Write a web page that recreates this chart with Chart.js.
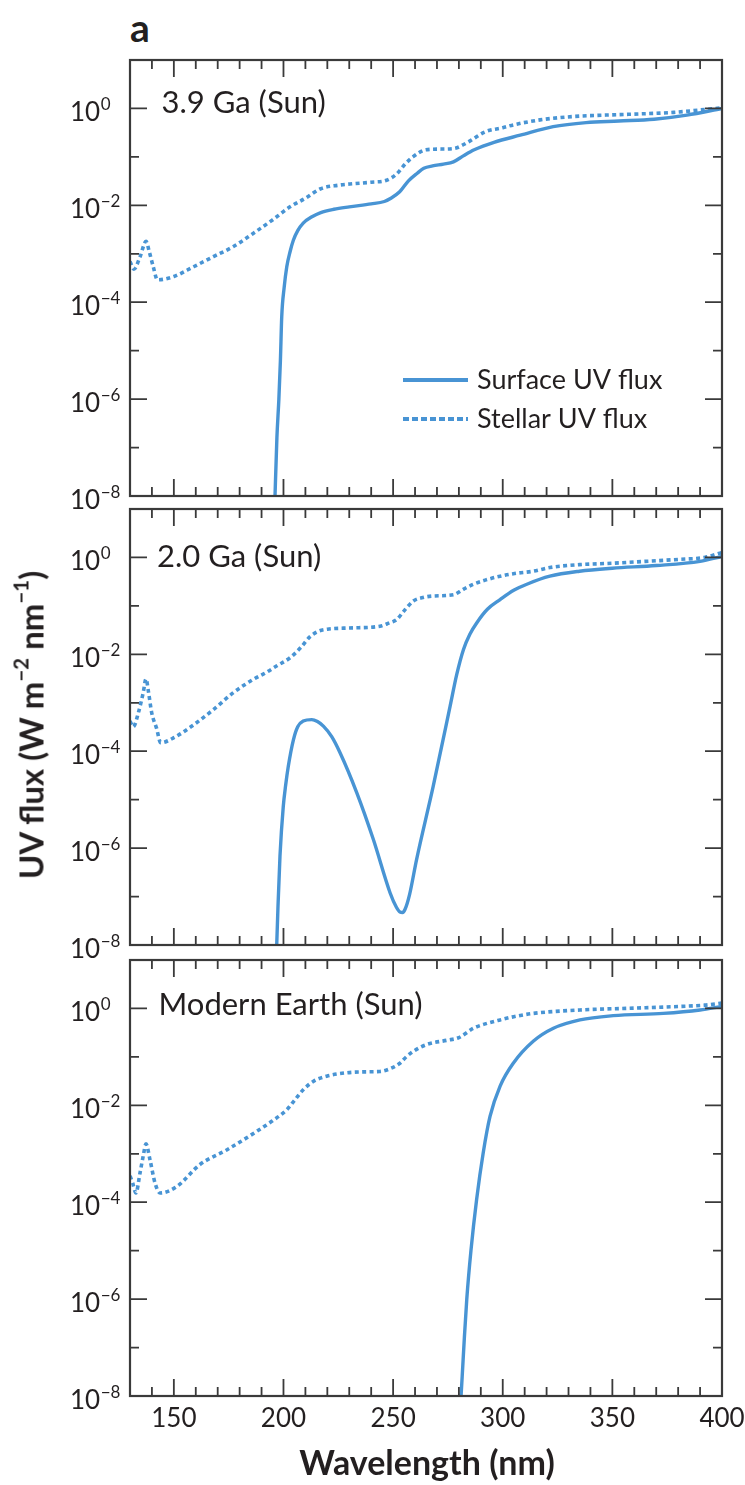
<!DOCTYPE html>
<html>
<head>
<meta charset="utf-8">
<script src="https://cdn.jsdelivr.net/npm/chart.js@4.4.1/dist/chart.umd.min.js"></script>
<style>
  html, body { margin: 0; padding: 0; background: #ffffff; }
  body { width: 745px; height: 1485px; position: relative; overflow: hidden;
         font-family: Lato, "Noto Sans", sans-serif; color: #231f20; }
  canvas { position: absolute; left: 0; }
  #p1 { top: 50px; }
  #p2 { top: 499px; }
  #p3 { top: 950px; }
  .tag { position: absolute; left: 130px; top: 8px; font-size: 39px; font-weight: 700; line-height: 1; }
  .xtitle { position: absolute; left: 427px; top: 1445px; transform: translateX(-50%);
            font-size: 34px; font-weight: 700; line-height: 1; white-space: nowrap; }
  .ytitle { position: absolute; left: 31px; top: 725px; transform: translate(-50%, -50%) rotate(-90deg);
            font-size: 33px; font-weight: 700; line-height: 1; white-space: nowrap; }
  .ytitle sup { font-size: 0.62em; position: relative; top: -0.15em; vertical-align: super; line-height: 0; }
</style>
</head>
<body>
<div class="tag">a</div>
<canvas id="p1" width="745" height="480"></canvas>
<canvas id="p2" width="745" height="480"></canvas>
<canvas id="p3" width="745" height="500"></canvas>
<div class="ytitle">UV flux (W m<sup>−2</sup> nm<sup>−1</sup>)</div>
<div class="xtitle">Wavelength (nm)</div>
<script>
// ---- Axis ticks and labels ----
const xTickValues = [140, 150, 160, 170, 180, 190, 200, 210, 220, 230, 240, 250, 260, 270, 280,
                     290, 300, 310, 320, 330, 340, 350, 360, 370, 380, 390];
const xMajorTicks = [150, 200, 250, 300, 350, 400];
const xTickLabels = ['150', '200', '250', '300', '350', '400'];
const yTickDecades = [-7, -6, -5, -4, -3, -2, -1, 0];
const yLabelDecades = [-8, -6, -4, -2, 0];
const panelTitles = ['3.9 Ga (Sun)', '2.0 Ga (Sun)', 'Modern Earth (Sun)'];
const seriesNames = ['Surface UV flux', 'Stellar UV flux'];

// ---- 3.9 Ga ----
const wl39Stellar = [130, 131.8, 134.6, 137.3, 138.8, 140.6, 142.5, 150, 159, 168, 177, 186, 195, 203,
  210, 217, 225, 232, 240, 247, 251.5, 255.5, 259, 265, 272, 278, 284, 292, 300, 305, 317, 332, 347,
  362, 378, 390, 400];
const flux39Stellar = [6.9e-4, 4.8e-4, 8.7e-4, 1.8e-3, 1.1e-3, 5.4e-4, 2.9e-4, 3.4e-4, 5.4e-4, 8.7e-4,
  1.4e-3, 2.6e-3, 5.0e-3, 9.3e-3, 1.4e-2, 2.2e-2, 2.6e-2, 2.8e-2, 3.0e-2, 3.3e-2, 4.4e-2, 7.1e-2,
  0.10, 0.14, 0.145, 0.15, 0.20, 0.33, 0.40, 0.46, 0.58, 0.68, 0.73, 0.77, 0.83, 0.93, 1.03];
const wl39Surface = [196.0, 197.0, 197.9, 198.6, 199.2, 200.3, 201.5, 203, 204.5, 206.5, 209, 213, 217,
  223, 230, 240, 246, 249, 253, 257, 261, 264, 268, 273, 277.5, 282, 287, 296, 308, 323, 338, 353, 369,
  384, 400];
const flux39Surface = [6.3e-9, 1.6e-7, 1.0e-6, 6.3e-6, 5.0e-5, 2.0e-4, 5.4e-4, 1.1e-3, 1.9e-3, 3.0e-3,
  4.3e-3, 5.8e-3, 7.1e-3, 8.3e-3, 9.3e-3, 1.07e-2, 1.2e-2, 1.4e-2, 1.9e-2, 3.2e-2, 4.6e-2, 5.8e-2,
  6.5e-2, 7.1e-2, 7.9e-2, 0.105, 0.14, 0.20, 0.28, 0.42, 0.51, 0.55, 0.60, 0.73, 1.0];

// ---- 2.0 Ga ----
const wl20Stellar = [130, 131.5, 133.8, 136, 137.3, 138.5, 139.9, 142.1, 144, 150, 159, 168, 177, 186,
  192, 197, 203, 208, 212, 216, 220, 230, 244, 248, 251.6, 255, 259.2, 264, 268.3, 277.5, 282, 286.6,
  292, 298.8, 306, 314, 321.5, 335, 350, 365, 380, 392, 400];
const flux20Stellar = [4.2e-4, 3.2e-4, 6.2e-4, 1.6e-3, 3.1e-3, 1.6e-3, 6.2e-4, 3.0e-4, 1.5e-4, 1.9e-4,
  3.5e-4, 7.2e-4, 1.6e-3, 3.0e-3, 4.2e-3, 5.8e-3, 8.5e-3, 1.4e-2, 2.3e-2, 3.0e-2, 3.3e-2, 3.5e-2,
  3.8e-2, 4.4e-2, 5.2e-2, 7.9e-2, 0.126, 0.15, 0.16, 0.17, 0.22, 0.28, 0.34, 0.41, 0.47, 0.52, 0.62,
  0.71, 0.76, 0.83, 0.91, 1.0, 1.26];
const wl20Surface = [196.7, 197.5, 198.4, 199.9, 201, 202.2, 204.5, 206.5, 209, 212.9, 215.5, 218.2, 222,
  225.8, 233.4, 241, 248.6, 251.5, 253.1, 254.3, 255.4, 257.5, 260.7, 268.3, 276, 279, 282.1, 285,
  288.2, 293, 298.8, 305, 311, 321.5, 335, 350, 370, 390, 400];
const flux20Surface = [5.0e-9, 6.3e-8, 6.8e-7, 7.2e-6, 2.0e-5, 4.9e-5, 1.7e-4, 3.2e-4, 4.2e-4, 4.5e-4,
  4.1e-4, 3.3e-4, 2.0e-4, 9.3e-5, 1.4e-5, 1.5e-6, 1.2e-7, 6.0e-8, 4.8e-8, 4.7e-8, 5.4e-8, 1.1e-7,
  5.8e-7, 1.9e-5, 8.5e-4, 3.8e-3, 1.26e-2, 2.6e-2, 4.5e-2, 8.5e-2, 0.135, 0.21, 0.28, 0.41, 0.52,
  0.60, 0.68, 0.83, 1.05];

// ---- Modern Earth ----
const wlModStellar = [130, 131.2, 132.7, 134.6, 136, 137.3, 139.1, 141.4, 143.7, 151.3, 161.9, 174.1,
  187.8, 195, 201.5, 205, 209, 214, 219.7, 228.8, 236, 244, 249, 253.1, 256, 259.2, 265.3, 274.5, 280,
  286.6, 292, 298.8, 306, 313.9, 335.2, 358, 380.8, 392, 400];
const fluxModStellar = [3.5e-4, 2.5e-4, 1.55e-4, 4.1e-4, 8.9e-4, 1.6e-3, 7.6e-4, 2.5e-4, 1.55e-4, 2.1e-4,
  6.0e-4, 1.2e-3, 2.9e-3, 4.8e-3, 8.1e-3, 1.26e-2, 2.1e-2, 3.2e-2, 4.0e-2, 4.7e-2, 4.9e-2, 5.0e-2,
  5.8e-2, 7.4e-2, 0.10, 0.13, 0.18, 0.22, 0.25, 0.39, 0.48, 0.58, 0.69, 0.79, 0.93, 1.01, 1.10, 1.17, 1.29];
const wlModSurface = [280.6, 281.5, 282.5, 283.6, 285.5, 288.1, 291.1, 294.2, 298.8, 304.8, 313.9, 323.1,
  335.2, 350.4, 373.2, 390, 400];
const fluxModSurface = [5.0e-9, 2.5e-8, 1.6e-7, 1.0e-6, 1.0e-5, 1.15e-4, 1.05e-3, 5.9e-3, 2.5e-2, 7.4e-2,
  0.21, 0.39, 0.58, 0.71, 0.79, 0.93, 1.10];

// ---- Styling ----
const LINE_BLUE = '#4894d4';
const AXIS_GREY = '#3a3a3a';
const TEXT_DARK = '#231f20';
const FONT = 'Lato, "Noto Sans", sans-serif';
const STELLAR_DASH = [4, 3.4];

function toPoints(xs, ys) { return xs.map((x, i) => ({ x: x, y: ys[i] })); }

// Frame, inward ticks on all four sides, decade labels, panel title and optional key
const framePlugin = {
  id: 'frameTicks',
  afterDatasetsDraw(chart, args, opts) {
    const { ctx, chartArea: a } = chart;
    const x = chart.scales.x, y = chart.scales.y;
    ctx.save();
    ctx.strokeStyle = AXIS_GREY;
    ctx.lineWidth = 1.8;
    ctx.beginPath();
    xTickValues.forEach(v => {
      const px = x.getPixelForValue(v);
      const len = xMajorTicks.includes(v) ? 17 : 9;
      ctx.moveTo(px, a.bottom); ctx.lineTo(px, a.bottom - len);
      ctx.moveTo(px, a.top); ctx.lineTo(px, a.top + len);
    });
    yTickDecades.forEach(k => {
      const py = y.getPixelForValue(Math.pow(10, k));
      const len = (k % 2 === 0) ? 17 : 9;
      ctx.moveTo(a.left, py); ctx.lineTo(a.left + len, py);
      ctx.moveTo(a.right, py); ctx.lineTo(a.right - len, py);
    });
    ctx.stroke();
    ctx.lineWidth = 2.2;
    ctx.strokeRect(a.left, a.top, a.right - a.left, a.bottom - a.top);

    // decade labels 10^k
    ctx.fillStyle = TEXT_DARK;
    ctx.textBaseline = 'alphabetic';
    ctx.textAlign = 'left';
    yLabelDecades.forEach(k => {
      const py = y.getPixelForValue(Math.pow(10, k));
      ctx.font = '26px ' + FONT;
      ctx.fillText('10', 70, py + 12.5);
      const w = ctx.measureText('10').width;
      ctx.font = '17px ' + FONT;
      ctx.fillText(k === 0 ? '0' : '\u2212' + Math.abs(k), 70 + w + 0.5, py + 1.5);
    });

    // wavelength labels
    if (opts.xLabels) {
      ctx.font = '26px ' + FONT;
      ctx.textAlign = 'center';
      xMajorTicks.forEach((v, i) => {
        ctx.fillText(xTickLabels[i], x.getPixelForValue(v), a.bottom + 31);
      });
    }

    // panel title
    ctx.textAlign = 'left';
    ctx.font = '31px ' + FONT;
    ctx.fillText(opts.title, a.left + opts.titleDx, a.top + opts.titleDy);

    // series key
    if (opts.key) {
      chart.data.datasets.forEach((ds, i) => {
        const ly = a.top + 320 + i * 39;
        ctx.strokeStyle = ds.borderColor;
        ctx.lineWidth = 3.8;
        ctx.setLineDash(ds.borderDash ? [6, 3] : []);
        ctx.beginPath();
        ctx.moveTo(a.left + 273, ly); ctx.lineTo(a.left + 338, ly);
        ctx.stroke();
        ctx.setLineDash([]);
        ctx.fillStyle = TEXT_DARK;
        ctx.font = '27px ' + FONT;
        ctx.fillText(ds.label, a.left + 347, ly + 8.5);
      });
    }
    ctx.restore();
  }
};

function makePanel(id, title, surfX, surfY, starX, starY, extra) {
  return new Chart(document.getElementById(id), {
    type: 'line',
    data: {
      datasets: [
        { label: seriesNames[0], data: toPoints(surfX, surfY), borderColor: LINE_BLUE,
          borderWidth: 3.4, pointRadius: 0, fill: false, cubicInterpolationMode: 'monotone', clip: 0 },
        { label: seriesNames[1], data: toPoints(starX, starY), borderColor: LINE_BLUE,
          borderWidth: 3.6, borderDash: STELLAR_DASH, pointRadius: 0, fill: false,
          cubicInterpolationMode: 'monotone', clip: 0 }
      ]
    },
    options: {
      responsive: false,
      animation: false,
      events: [],
      layout: { padding: { left: 130, right: 23, top: 10, bottom: extra.bottom } },
      scales: {
        x: { type: 'linear', min: 130, max: 400, display: false },
        y: { type: 'logarithmic', min: 1e-8, max: 10, display: false }
      },
      plugins: {
        legend: { display: false },
        tooltip: { enabled: false },
        frameTicks: { title: title, titleDx: extra.dx, titleDy: extra.dy,
                      xLabels: extra.xLabels, key: extra.key }
      }
    },
    plugins: [framePlugin]
  });
}

makePanel('p1', panelTitles[0], wl39Surface, flux39Surface, wl39Stellar, flux39Stellar,
  { bottom: 34, dx: 31.5, dy: 53, xLabels: false, key: true });
makePanel('p2', panelTitles[1], wl20Surface, flux20Surface, wl20Stellar, flux20Stellar,
  { bottom: 34, dx: 27, dy: 58, xLabels: false, key: false });
makePanel('p3', panelTitles[2], wlModSurface, fluxModSurface, wlModStellar, fluxModStellar,
  { bottom: 54, dx: 28.5, dy: 55, xLabels: true, key: false });
</script>
</body>
</html>
